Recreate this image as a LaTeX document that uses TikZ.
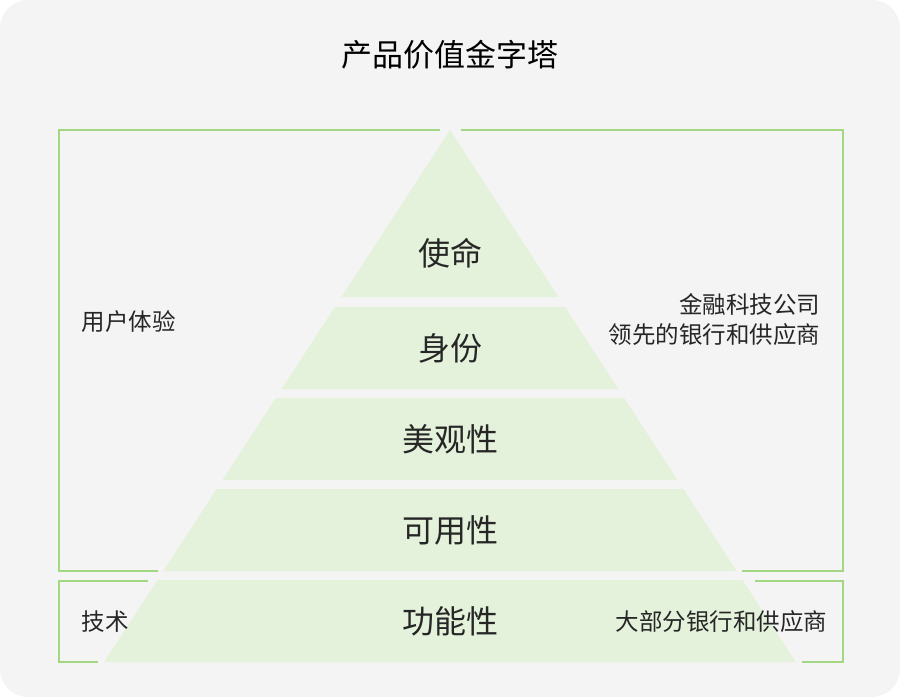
\documentclass[tikz,border=0pt]{standalone}
\usepackage{fontspec}
\newfontfamily\cjk{Noto Sans CJK SC}
\definecolor{bgcol}{HTML}{F4F4F4}
\definecolor{layercol}{HTML}{E4F2DB}
\definecolor{framecol}{HTML}{A3D883}
\tikzset{
  layerlabel/.style={font=\cjk\fontsize{32}{36}\selectfont, text=black!85},
  sidelabel/.style={font=\cjk\fontsize{23.5}{30}\selectfont, text=black!85, align=right},
  frame/.style={draw=framecol, line width=1.2pt}
}
\begin{document}
\begin{tikzpicture}[x=1pt,y=-1pt]
    % Background
    \fill[bgcol, rounded corners=28pt] (0,0) rectangle (900,697);
    \useasboundingbox (0,0) rectangle (900,697);
    % Title
    \node[font=\cjk\fontsize{31}{34}\selectfont] (title) at (450,55) {产品价值金字塔};
    % Pyramid layers
    \foreach \yt/\yb/\txt/\nm in {130/297/使命/mission, 307/389/身份/identity, 398/480/美观性/beauty, 489/571/可用性/usability, 580/662/功能性/function}{
        \fill[layercol] ({450-0.65*(\yt-130)},\yt) -- ({450+0.65*(\yt-130)},\yt)
            -- ({450+0.65*(\yb-130)},\yb) -- ({450-0.65*(\yb-130)},\yb) -- cycle;
        \node[layerlabel] (\nm) at (450,{(\yt+\yb)/2+(\yt==130?40:0)}) {\txt};
    }
    % Upper frame
    \draw[frame] (440,130) -- (59,130) -- (59,571) -- (158,571);
    \draw[frame] (461,130) -- (843,130) -- (843,571) -- (742,571);
    % Lower frame
    \draw[frame] (148,581) -- (59,581) -- (59,662) -- (98,662);
    \draw[frame] (755,581) -- (843,581) -- (843,662) -- (802,662);
    % Side labels
    \node[sidelabel, anchor=west] (ux) at (78,322) {用户体验};
    \node[sidelabel, anchor=east] (leader) at (824,320) {金融科技公司\\领先的银行和供应商};
    \node[sidelabel, anchor=west] (tech) at (78,622) {技术};
    \node[sidelabel, anchor=east] (most) at (831,622) {大部分银行和供应商};
\end{tikzpicture}
\end{document}
